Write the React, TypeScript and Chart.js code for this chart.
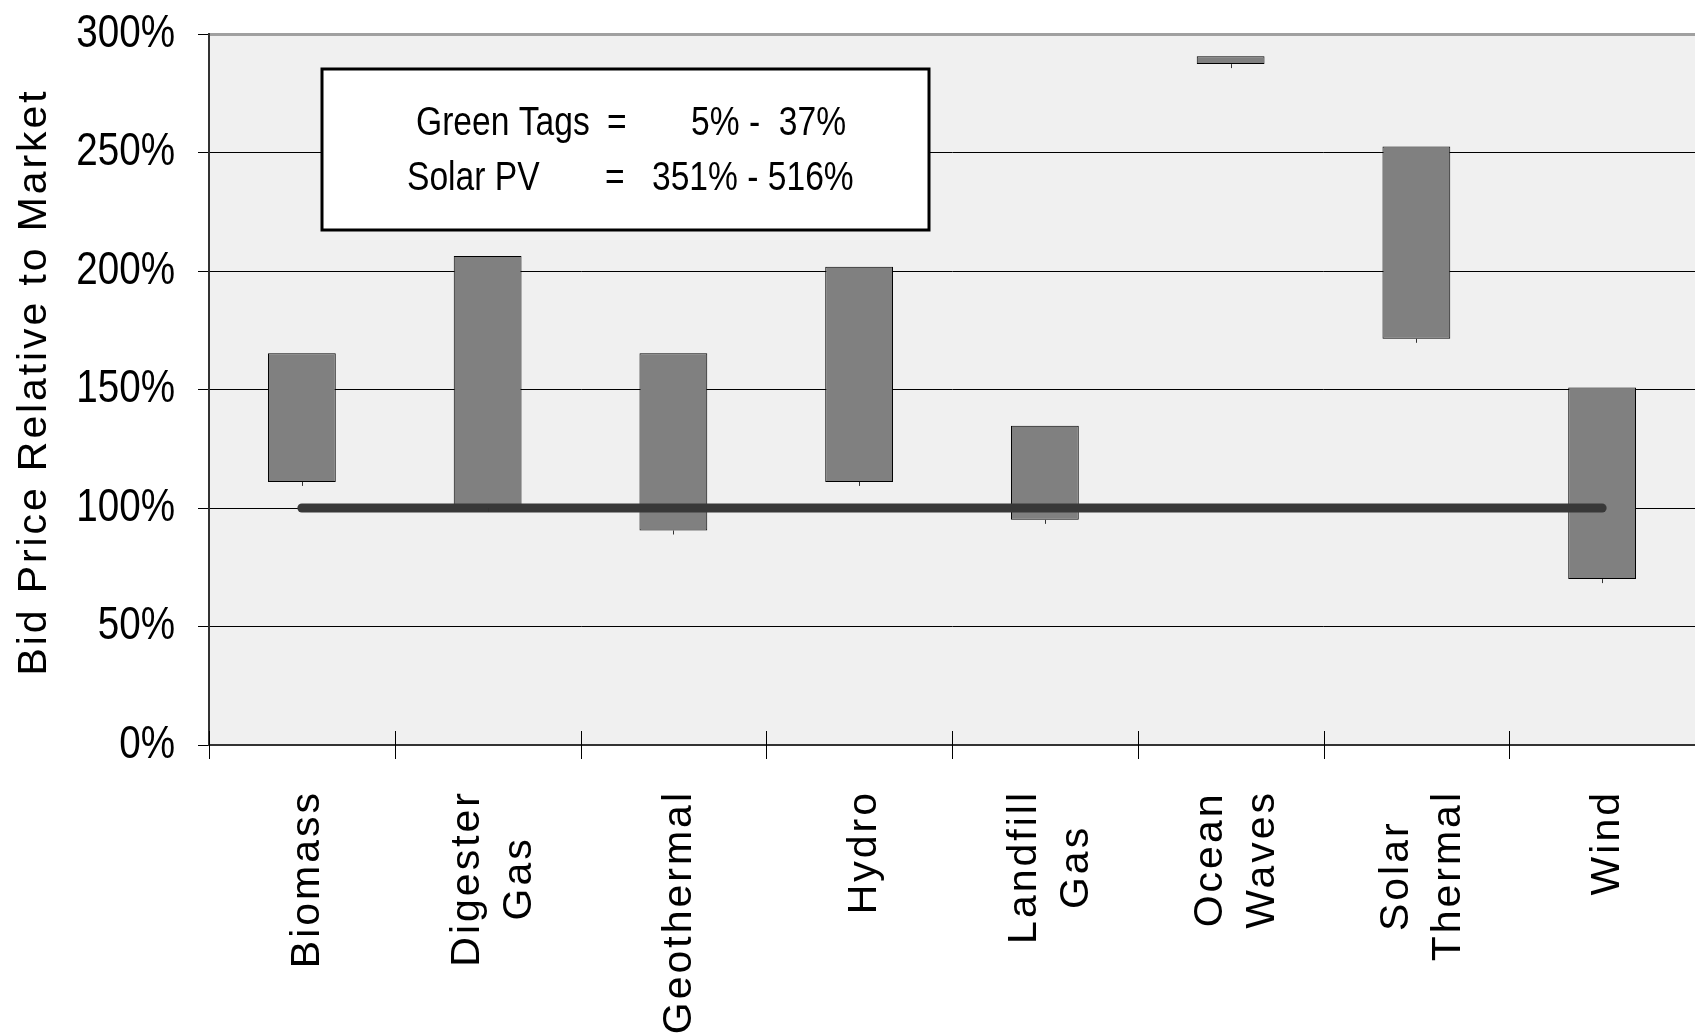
import React, { useEffect, useRef } from "react";
import { Chart, registerables } from "chart.js";

Chart.register(...registerables);

// Technology categories (multi-line labels are stacked side by side when rotated)
const categories: string[][] = [
  ["Biomass"],
  ["Digester", "Gas"],
  ["Geothermal"],
  ["Hydro"],
  ["Landfill", "Gas"],
  ["Ocean", "Waves"],
  ["Solar", "Thermal"],
  ["Wind"],
];

// Bid price range relative to market price, in percent
const bidLow = [111, 100, 90.5, 111, 95, 287.3, 171.4, 70];
const bidHigh = [165.3, 206.3, 165.3, 201.8, 134.7, 290.6, 252.5, 150.8];

// Market reference level (100%)
const marketLevel = [100, 100, 100, 100, 100, 100, 100, 100];

// Value axis
const yMin = 0;
const yMax = 300;
const yStep = 50;
const yTitle = "Bid Price Relative to Market";

// Note box rows: name, equals sign, range
const noteRows: string[][] = [
  ["Green Tags", "=", "5% -  37%"],
  ["Solar PV", "=", "351% - 516%"],
];

const REGULAR = "'Liberation Sans', Arial, sans-serif";

// Horizontally condensed text (narrow face look)
function drawCondensed(
  ctx: CanvasRenderingContext2D,
  text: string,
  x: number,
  y: number,
  sx: number,
  align: CanvasTextAlign,
  baseline: CanvasTextBaseline
) {
  ctx.save();
  ctx.translate(x, y);
  ctx.scale(sx, 1);
  ctx.textAlign = align;
  ctx.textBaseline = baseline;
  ctx.fillText(text, 0, 0);
  ctx.restore();
}

// Rotated (bottom-to-top) text with letter spacing, centred on (cx, cy)
function drawSpaced(
  ctx: CanvasRenderingContext2D,
  text: string,
  cx: number,
  cy: number,
  spacing: number
) {
  ctx.letterSpacing = "0px";
  const w = ctx.measureText(text).width + (text.length - 1) * spacing;
  ctx.save();
  ctx.translate(cx, cy);
  ctx.rotate(-Math.PI / 2);
  ctx.letterSpacing = spacing + "px";
  ctx.textAlign = "left";
  ctx.textBaseline = "middle";
  ctx.fillText(text, -w / 2, 0);
  ctx.restore();
  ctx.letterSpacing = "0px";
}

const decor = {
  id: "decor",
  beforeDraw(chart: any) {
    const { ctx, chartArea: a } = chart;
    ctx.save();
    ctx.fillStyle = "#ffffff";
    ctx.fillRect(0, 0, chart.width, chart.height);
    ctx.fillStyle = "#f0f0f0";
    ctx.fillRect(a.left, a.top, a.right - a.left, a.bottom - a.top);
    ctx.restore();
  },
  afterDatasetsDraw(chart: any) {
    // small low marks under each range bar
    const { ctx } = chart;
    const meta = chart.getDatasetMeta(1);
    const ys = chart.scales.y;
    ctx.save();
    ctx.strokeStyle = "#333";
    ctx.lineWidth = 1;
    meta.data.forEach((bar: any, i: number) => {
      const yb = ys.getPixelForValue(bidLow[i]);
      const x = Math.round(bar.x) + 0.5;
      ctx.beginPath();
      ctx.moveTo(x, yb);
      ctx.lineTo(x, yb + 4);
      ctx.stroke();
    });
    ctx.restore();
  },
  afterDraw(chart: any) {
    const { ctx, chartArea: a } = chart;
    const xs = chart.scales.x;
    const ys = chart.scales.y;
    const n = categories.length;
    ctx.save();

    // category boundary marks crossing the axis
    ctx.strokeStyle = "#000";
    ctx.lineWidth = 1;
    for (let i = 0; i <= n; i++) {
      const x = Math.round(xs.left + (i * (xs.right - xs.left)) / n) + 0.5;
      ctx.beginPath();
      ctx.moveTo(x, a.bottom - 14);
      ctx.lineTo(x, a.bottom + 14);
      ctx.stroke();
    }

    // value tick labels
    ctx.fillStyle = "#000";
    ctx.font = `46px ${REGULAR}`;
    ys.ticks.forEach((t: any) => {
      drawCondensed(ctx, `${t.value}%`, a.left - 34, ys.getPixelForValue(t.value), 0.84, "right", "middle");
    });

    // category labels
    ctx.font = `41px ${REGULAR}`;
    const ls = 3;
    categories.forEach((lines, i) => {
      const cx = xs.getPixelForValue(i) + 6;
      const widths = lines.map((t) => ctx.measureText(t).width + (t.length - 1) * ls);
      const maxW = Math.max(...widths);
      const centerY = a.bottom + 48 + maxW / 2;
      lines.forEach((t, j) => {
        const off = (j - (lines.length - 1) / 2) * 52;
        drawSpaced(ctx, t, cx + off, centerY, ls);
      });
    });

    // value axis title
    ctx.font = `41px ${REGULAR}`;
    drawSpaced(ctx, yTitle, 35, (a.top + a.bottom) / 2 - 6, 2.9);

    // note box
    const bx = a.left + 113;
    const by = a.top + 35;
    ctx.fillStyle = "#ffffff";
    ctx.fillRect(bx, by, 607, 161);
    ctx.strokeStyle = "#000";
    ctx.lineWidth = 3;
    ctx.strokeRect(bx, by, 607, 161);
    ctx.fillStyle = "#000";
    ctx.font = `40px ${REGULAR}`;
    const cols = [
      [bx + 94, bx + 285, bx + 369],
      [bx + 85, bx + 283, bx + 330],
    ];
    const baselines = [by + 66, by + 121];
    noteRows.forEach((row, r) => {
      row.forEach((t, c) => drawCondensed(ctx, t, cols[r][c], baselines[r], 0.84, "left", "alphabetic"));
    });

    ctx.restore();
  },
};

export default function App() {
  const ref = useRef<HTMLCanvasElement>(null);

  useEffect(() => {
    document.body.style.margin = "0";
    const chart = new Chart(ref.current as HTMLCanvasElement, {
      type: "bar",
      data: {
        labels: categories,
        datasets: [
          {
            type: "line",
            label: "Market",
            data: marketLevel,
            borderColor: "#383838",
            borderWidth: 9,
            borderCapStyle: "round",
            pointRadius: 0,
            tension: 0,
            order: 0,
          } as any,
          {
            type: "bar",
            label: "Bid range",
            data: bidLow.map((lo, i) => [lo, bidHigh[i]]),
            backgroundColor: "#808080",
            borderColor: "#000",
            borderWidth: 1,
            borderSkipped: false,
            categoryPercentage: 1,
            barPercentage: 0.365,
            order: 1,
          } as any,
        ],
      },
      options: {
        responsive: false,
        animation: false,
        devicePixelRatio: 1,
        layout: { padding: { top: 34, left: 0, right: 0, bottom: 0 } },
        plugins: { legend: { display: false }, tooltip: { enabled: false } },
        scales: {
          x: {
            ticks: { display: false },
            grid: { display: false },
            border: { display: true, color: "#333", width: 2 },
            afterFit: (s: any) => {
              s.height = 291;
            },
          },
          y: {
            min: yMin,
            max: yMax,
            ticks: { stepSize: yStep, display: false },
            grid: {
              color: (c: any) => (c.tick && c.tick.value === yMax ? "#a0a0a0" : "#000"),
              lineWidth: (c: any) => (c.tick && c.tick.value === yMax ? 3 : 1),
              tickLength: 11,
              tickColor: "#000",
              tickWidth: 1,
            },
            border: { display: true, color: "#333", width: 2 },
            afterFit: (s: any) => {
              s.width = 209;
            },
          },
        },
      } as any,
      plugins: [decor],
    });
    return () => chart.destroy();
  }, []);

  return (
    <canvas
      ref={ref}
      width={1695}
      height={1036}
      style={{ display: "block", width: 1695, height: 1036 }}
    />
  );
}
